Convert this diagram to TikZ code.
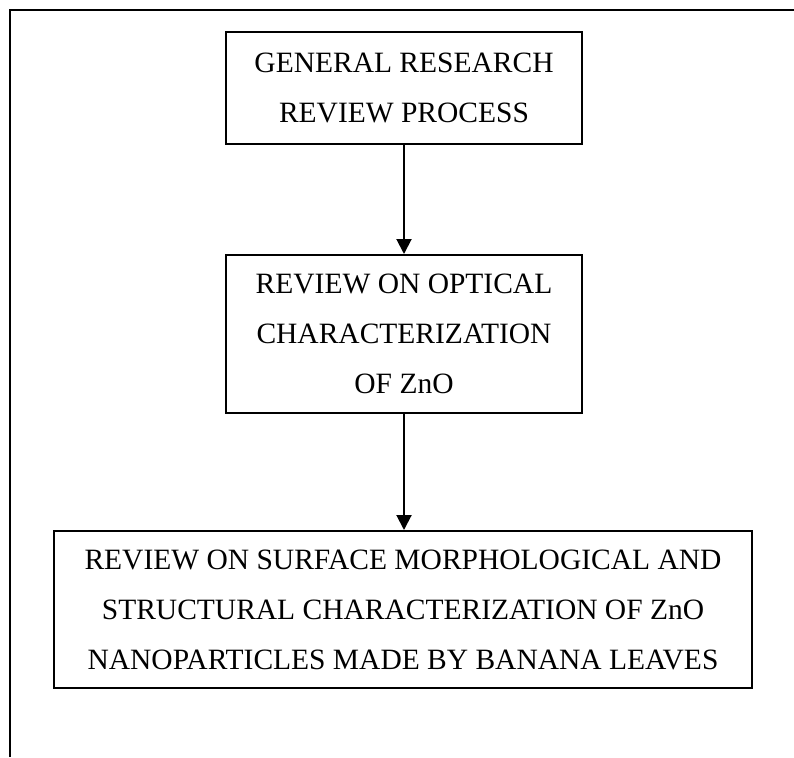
\documentclass[tikz,border=0pt]{standalone}
\usepackage{fontspec}
\setmainfont{Liberation Serif}
\usetikzlibrary{arrows.meta}
\tikzset{
	box/.style={draw,line width=2pt,align=center,inner sep=0pt,font=\fontsize{29.5}{50}\selectfont},
	flow/.style={line width=2pt,-{Triangle[width=15pt,length=15pt]}}
}
\begin{document}
\begin{tikzpicture}[x=1pt,y=1pt]
		\useasboundingbox (0,0) rectangle (794,-757);
		\draw[line width=2pt] (9.5,-757) |- (794,-10);
		\draw (404,-88) node[box,minimum width=356pt,minimum height=112pt](GRR) {GENERAL RESEARCH\\REVIEW PROCESS};
		\draw (404,-334) node[box,minimum width=356pt,minimum height=158pt](ROC) {REVIEW ON OPTICAL\\CHARACTERIZATION\\OF ZnO};
		\draw (403,-609.5) node[box,minimum width=698pt,minimum height=157pt](RSM) {REVIEW ON SURFACE MORPHOLOGICAL AND\\STRUCTURAL CHARACTERIZATION OF ZnO\\NANOPARTICLES MADE BY BANANA LEAVES};
        \draw[flow] (GRR) -- (ROC);
        \draw[flow] (ROC.south) -- (ROC.south |- RSM.north);
    \end{tikzpicture}
\end{document}
